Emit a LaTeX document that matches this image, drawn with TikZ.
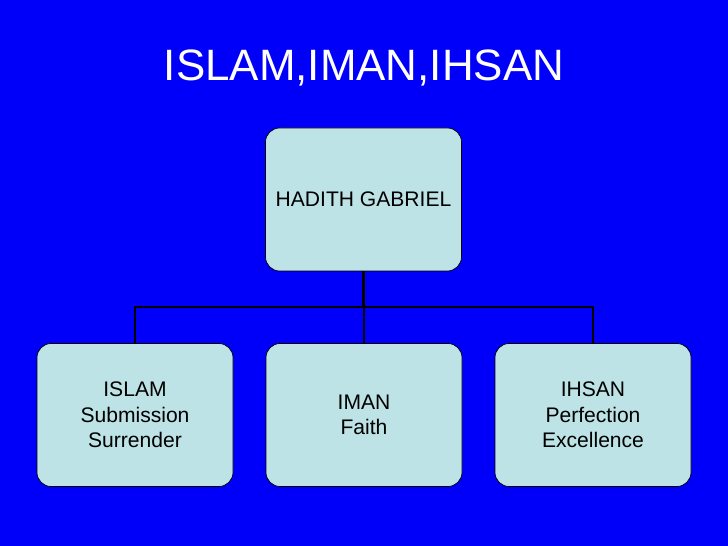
\documentclass[tikz,border=0pt]{standalone}
\usepackage{fontspec}
\setmainfont{Liberation Sans}
\definecolor{slideblue}{RGB}{0,0,250}
\definecolor{boxfill}{RGB}{190,227,230}
\tikzset{
  card/.style={draw=black,fill=boxfill,rounded corners=8pt,minimum width=196\px,
    minimum height=143\px,align=center,font=\fontsize{12}{14.5}\selectfont},
  link/.style={draw=black,line width=1.2pt}
}
\newlength{\px}
\setlength{\px}{0.02cm}
\begin{document}
\begin{tikzpicture}[x=0.02cm,y=-0.02cm]
  \fill[slideblue] (0,0) rectangle (728,546);
  \node[text=white,font=\fontsize{25}{30}\selectfont] (title) at (364,68) {ISLAM,IMAN,IHSAN};
  \node[card] (hadith) at (363.5,199.5) {HADITH GABRIEL};
  \node[card] (islam) at (135,415) {ISLAM\\Submission\\Surrender};
  \node[card] (iman) at (364,415) {IMAN\\Faith};
  \node[card] (ihsan) at (593,415) {IHSAN\\Perfection\\Excellence};
  \coordinate (bar) at (0,307);
  \draw[link] (hadith.south) -- (hadith.south |- bar);
  \draw[link] (islam.north) -- (islam.north |- bar) -- (ihsan.north |- bar) -- (ihsan.north);
  \draw[link] (iman.north) -- (iman.north |- bar);
\end{tikzpicture}
\end{document}
